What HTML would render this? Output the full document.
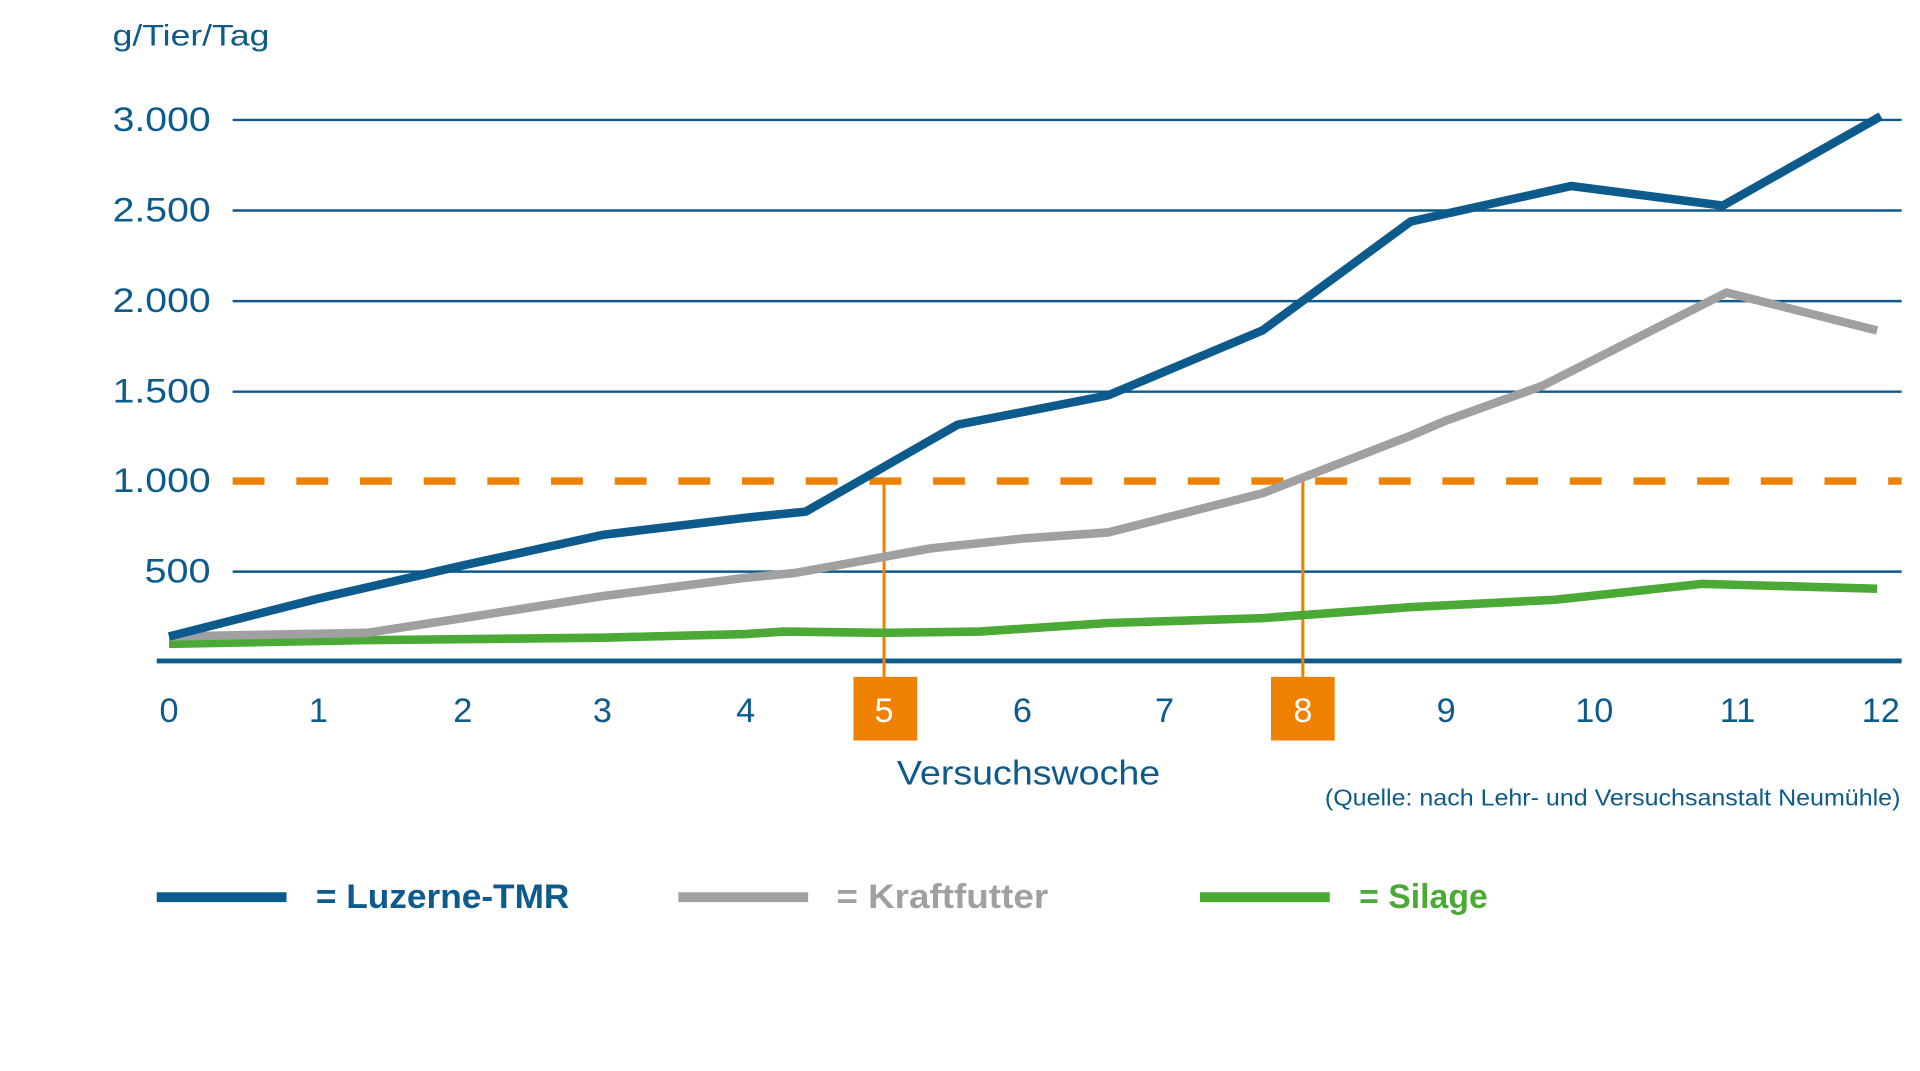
<!DOCTYPE html>
<html><head><meta charset="utf-8"><style>html,body{margin:0;padding:0;background:#fff;}svg{display:block}</style></head>
<body>
<svg width="1920" height="1071" viewBox="0 0 1568 875" preserveAspectRatio="none" xmlns="http://www.w3.org/2000/svg" font-family="Liberation Sans, sans-serif">
<rect width="1568" height="875" fill="#fff"/>
<g stroke="#0d5a8c" stroke-width="2">
<line x1="190" y1="98" x2="1553" y2="98"/>
<line x1="190" y1="172" x2="1553" y2="172"/>
<line x1="190" y1="246" x2="1553" y2="246"/>
<line x1="190" y1="320" x2="1553" y2="320"/>
<line x1="190" y1="467" x2="1553" y2="467"/>
</g>
<line x1="128" y1="540" x2="1553" y2="540" stroke="#0d5a8c" stroke-width="4"/>
<g fill="#0d5a8c" font-size="28" text-anchor="end">
<text x="172" y="107" textLength="80" lengthAdjust="spacingAndGlyphs">3.000</text>
<text x="172" y="181" textLength="80" lengthAdjust="spacingAndGlyphs">2.500</text>
<text x="172" y="255" textLength="80" lengthAdjust="spacingAndGlyphs">2.000</text>
<text x="172" y="329" textLength="80" lengthAdjust="spacingAndGlyphs">1.500</text>
<text x="172" y="402" textLength="80" lengthAdjust="spacingAndGlyphs">1.000</text>
<text x="172" y="476" textLength="54" lengthAdjust="spacingAndGlyphs">500</text>
</g>
<text x="92" y="37" fill="#0d5a8c" font-size="24" textLength="128" lengthAdjust="spacingAndGlyphs">g/Tier/Tag</text>
<line x1="190" y1="393" x2="1553" y2="393" stroke="#f08000" stroke-width="6" stroke-dasharray="26,26"/>
<g stroke="#f08000" stroke-width="2.5">
<line x1="722" y1="393" x2="722" y2="553"/>
<line x1="1064" y1="393" x2="1064" y2="553"/>
</g>
<rect x="697" y="553" width="52" height="52" fill="#f08000"/>
<rect x="1038" y="553" width="52" height="52" fill="#f08000"/>
<polyline fill="none" stroke="#4aaa35" stroke-width="7" stroke-linejoin="round" points="138,526 300,523 492,521 609,518 640,516 722,517 800,516 905,509 1031,505 1152,496 1270,490 1390,477 1533,481"/>
<polyline fill="none" stroke="#a0a0a0" stroke-width="7" stroke-linejoin="round" points="138,520 300,517 378,505 492,487 609,472 650,468 760,448 835,440 905,435 1031,403 1152,356 1180,344 1260,315 1410,239 1533,270"/>
<polyline fill="none" stroke="#0d5a8c" stroke-width="7" stroke-linejoin="round" points="138,520 260,489 378,462 492,437 609,423 658,418 782,347 905,323 1031,270 1152,181 1283,152 1407,168 1536,95"/>
<g fill="#0d5a8c" font-size="28" text-anchor="middle">
<text x="138" y="590">0</text><text x="260" y="590">1</text><text x="378" y="590">2</text><text x="492" y="590">3</text><text x="609" y="590">4</text>
<text x="722" y="590" fill="#fff">5</text><text x="835" y="590">6</text><text x="951" y="590">7</text>
<text x="1064" y="590" fill="#fff">8</text><text x="1181" y="590">9</text><text x="1302" y="590">10</text><text x="1419" y="590">11</text><text x="1536" y="590">12</text>
<text x="840" y="641" font-size="28" textLength="215" lengthAdjust="spacingAndGlyphs">Versuchswoche</text>
</g>
<text x="1552" y="658" fill="#0d5a8c" font-size="19" text-anchor="end" textLength="470" lengthAdjust="spacingAndGlyphs">(Quelle: nach Lehr- und Versuchsanstalt Neumühle)</text>
<g stroke-width="8">
<line x1="128" y1="733" x2="234" y2="733" stroke="#0d5a8c"/>
<line x1="554" y1="733" x2="660" y2="733" stroke="#a0a0a0"/>
<line x1="980" y1="733" x2="1086" y2="733" stroke="#4aaa35"/>
</g>
<g font-size="28" font-weight="bold">
<text x="258" y="742" fill="#0d5a8c" textLength="207" lengthAdjust="spacingAndGlyphs">= Luzerne-TMR</text>
<text x="683" y="742" fill="#a0a0a0" textLength="173" lengthAdjust="spacingAndGlyphs">= Kraftfutter</text>
<text x="1110" y="742" fill="#4aaa35" textLength="105" lengthAdjust="spacingAndGlyphs">= Silage</text>
</g>
</svg>
</body></html>
